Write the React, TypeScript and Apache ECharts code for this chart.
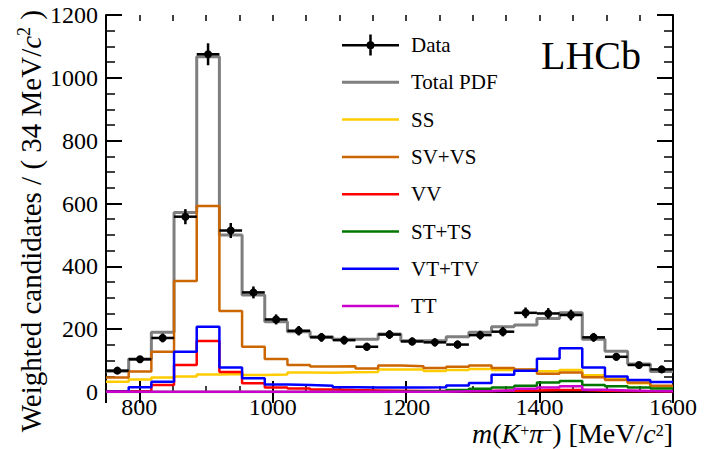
import React, { useEffect, useRef } from 'react';
import * as echarts from 'echarts';

const FONT = "'Liberation Serif', 'Times New Roman', serif";

// Binning: 25 bins of 34 MeV/c^2 from 750 to 1600
const BIN_START = 750;
const BIN_WIDTH = 34;

// Values read per bin (left to right)
const dataValues = [68, 104, 172, 558, 1075, 514, 317, 231, 195, 174, 165, 144, 183, 161, 158, 151, 181, 192, 252, 250, 245, 174, 112, 86, 72];
const dataErrors = [9, 11, 14, 24, 35, 24, 19, 16, 15, 14, 14, 13, 14, 13, 13, 13, 14, 15, 17, 17, 17, 14, 12, 10, 9];
const totalPdf = [66, 105, 190, 571, 1067, 500, 309, 224, 192, 176, 168, 168, 185, 163, 163, 176, 190, 208, 213, 234, 252, 168, 130, 89, 65];
const ssValues = [33, 40, 46, 49, 56, 57, 54, 56, 62, 61, 63, 64, 72, 72, 67, 70, 73, 70, 72, 66, 70, 53, 41, 28, 16];
const svvsValues = [46, 65, 128, 353, 592, 258, 144, 105, 86, 81, 82, 75, 84, 82, 76, 80, 84, 76, 72, 58, 62, 47, 38, 30, 20];
const vvValues = [2, 3, 22, 86, 162, 64, 28, 14, 11, 8, 6, 5, 4, 3, 3, 3, 3, 4, 5, 6, 6, 4, 3, 2, 2];
const sttsValues = [0, 0, 0, 0, 0, 0, 0, 0, 0, 0, 0, 0, 1, 2, 3, 6, 10, 14, 20, 30, 35, 22, 18, 14, 11];
const vttvValues = [1, 15, 33, 128, 208, 78, 44, 24, 22, 20, 15, 14, 14, 14, 15, 21, 29, 55, 68, 106, 139, 78, 49, 38, 32];
const ttValues = [1, 1, 1, 1, 1, 1, 1, 1, 1, 1, 1, 1, 1, 1, 1, 2, 3, 5, 10, 14, 18, 7, 5, 3, 2];

const legendNames = ['Data', 'Total PDF', 'SS', 'SV+VS', 'VV', 'ST+TS', 'VT+TV', 'TT'];

const DATA_ICON =
  'path://M0 9.5h57v2.5H0z M27.25 0h2.5v21h-2.5z M24.5 10.75a4 4 0 1 1 8 0a4 4 0 1 1 -8 0z';
const LINE_ICON = 'path://M0 0h57v2.5H0z';
const THICK_LINE_ICON = 'path://M0 0h57v3H0z';

function stepData(values: number[]) {
  const pts: number[][] = [];
  for (let i = 0; i < values.length; i++) pts.push([BIN_START + i * BIN_WIDTH, values[i]]);
  pts.push([BIN_START + values.length * BIN_WIDTH, values[values.length - 1]]);
  return pts;
}

function hist(name: string, values: number[], color: string, width: number, z: number) {
  return {
    name,
    type: 'line',
    step: 'end',
    data: stepData(values),
    showSymbol: false,
    symbol: 'none',
    xAxisIndex: 0,
    yAxisIndex: 0,
    z,
    silent: true,
    lineStyle: { color, width },
    itemStyle: { color },
  };
}

export default function App() {
  const ref = useRef<HTMLDivElement>(null);
  useEffect(() => {
    if (!ref.current) return;
    const chart = echarts.init(ref.current, undefined, { renderer: 'svg' });
    const gridRect = { left: 106, right: 37, top: 15, bottom: 57 };
    const axisLine = { show: true, lineStyle: { color: '#000', width: 2 } };
    const option: any = {
      animation: false,
      backgroundColor: '#fff',
      grid: [
        { ...gridRect, show: false },
        { ...gridRect, show: false },
      ],
      xAxis: [
        {
          type: 'value', gridIndex: 0, position: 'bottom', min: 750, max: 1600,
          axisLine, splitLine: { show: false },
          axisTick: { inside: true, length: 11, lineStyle: { color: '#000', width: 2 } },
          axisLabel: {
            color: '#000', fontFamily: FONT, fontSize: 24, lineHeight: 20, margin: 5,
            formatter: (v: number) => (v % 200 === 0 ? String(v) : ''),
          },
        },
        {
          type: 'value', gridIndex: 0, position: 'top', min: 750, max: 1600,
          axisLine, splitLine: { show: false },
          axisTick: { inside: true, length: 11, lineStyle: { color: '#000', width: 2 } },
          axisLabel: { show: false },
        },
        {
          type: 'value', gridIndex: 1, position: 'bottom', min: 750, max: 1600, interval: 50,
          axisLine: { show: false }, splitLine: { show: false },
          axisTick: { inside: true, length: 6, lineStyle: { color: '#000', width: 1.5 } },
          axisLabel: { show: false },
        },
        {
          type: 'value', gridIndex: 1, position: 'top', min: 750, max: 1600, interval: 50,
          axisLine: { show: false }, splitLine: { show: false },
          axisTick: { inside: true, length: 6, lineStyle: { color: '#000', width: 1.5 } },
          axisLabel: { show: false },
        },
      ],
      yAxis: [
        {
          type: 'value', gridIndex: 0, position: 'left', min: 0, max: 1200, interval: 200,
          axisLine, splitLine: { show: false },
          axisTick: { inside: true, length: 16, lineStyle: { color: '#000', width: 2 } },
          minorTick: { show: true, splitNumber: 4, length: 9, lineStyle: { color: '#000', width: 1.5 } },
          axisLabel: {
            color: '#000', fontFamily: FONT, fontSize: 24, margin: 8,
            formatter: (v: number) => String(v),
          },
        },
        {
          type: 'value', gridIndex: 0, position: 'right', min: 0, max: 1200, interval: 200,
          axisLine, splitLine: { show: false },
          axisTick: { inside: true, length: 16, lineStyle: { color: '#000', width: 2 } },
          minorTick: { show: true, splitNumber: 4, length: 9, lineStyle: { color: '#000', width: 1.5 } },
          axisLabel: { show: false },
        },
        {
          type: 'value', gridIndex: 1, min: 0, max: 1200, show: false,
        },
      ],
      legend: {
        orient: 'vertical',
        left: 337,
        top: 29.5,
        itemWidth: 57,
        itemHeight: 21,
        itemGap: 16.3,
        selectedMode: false,
        symbolKeepAspect: true,
        textStyle: { color: '#000', fontFamily: FONT, fontSize: 21, lineHeight: 21, padding: [0, 0, 0, 7] },
        data: legendNames.map((n) =>
          n === 'Data'
            ? { name: n, icon: DATA_ICON }
            : { name: n, icon: n === 'Total PDF' ? THICK_LINE_ICON : LINE_ICON }
        ),
      },
      series: [
        hist('Total PDF', totalPdf, '#7f7f7f', 3, 2),
        hist('SS', ssValues, '#ffcc00', 2.5, 3),
        hist('SV+VS', svvsValues, '#cc6600', 2.5, 3),
        hist('VV', vvValues, '#ff0000', 2.5, 3),
        hist('ST+TS', sttsValues, '#007700', 2.5, 3),
        hist('VT+TV', vttvValues, '#0000ff', 2.5, 3),
        hist('TT', ttValues, '#cc00cc', 2.5, 3),
        {
          name: 'Data',
          type: 'custom',
          xAxisIndex: 0,
          yAxisIndex: 0,
          z: 6,
          silent: true,
          itemStyle: { color: '#000' },
          encode: { x: 0, y: 1 },
          data: dataValues.map((v, i) => [BIN_START + (i + 0.5) * BIN_WIDTH, v, dataErrors[i]]),
          renderItem: (_params: any, api: any) => {
            const x = api.value(0);
            const y = api.value(1);
            const e = api.value(2);
            const l = api.coord([x - BIN_WIDTH / 2, y]);
            const r = api.coord([x + BIN_WIDTH / 2, y]);
            const t = api.coord([x, y + e]);
            const b = api.coord([x, y - e]);
            const c = api.coord([x, y]);
            const st = { stroke: '#000', lineWidth: 2.5 };
            return {
              type: 'group',
              children: [
                { type: 'line', shape: { x1: l[0], y1: l[1], x2: r[0], y2: r[1] }, style: st },
                { type: 'line', shape: { x1: t[0], y1: t[1], x2: b[0], y2: b[1] }, style: st },
                { type: 'circle', shape: { cx: c[0], cy: c[1], r: 4 }, style: { fill: '#000' } },
              ],
            };
          },
        },
      ],
      graphic: [
        {
          type: 'text',
          x: 31,
          y: 10,
          rotation: Math.PI / 2,
          style: {
            text: '{a|Weighted candidates / ( 34 MeV/}{i|c}{s|2}{a| )}',
            align: 'right',
            verticalAlign: 'middle',
            fill: '#000',
            rich: {
              a: { fontFamily: FONT, fontSize: 29, lineHeight: 32, fill: '#000' },
              i: { fontFamily: FONT, fontSize: 29, lineHeight: 32, fontStyle: 'italic', fill: '#000' },
              s: { fontFamily: FONT, fontSize: 18, lineHeight: 18, verticalAlign: 'top', fill: '#000' },
            },
          },
        },
        {
          type: 'text',
          x: 673,
          y: 433,
          style: {
            text: '{i|m}{a|(}{i|K}{s|+}{i|π}{s|−}{a|) [MeV/}{i|c}{s|2}{a|]}',
            align: 'right',
            verticalAlign: 'middle',
            fill: '#000',
            rich: {
              a: { fontFamily: FONT, fontSize: 28, lineHeight: 22, fill: '#000' },
              i: { fontFamily: FONT, fontSize: 28, lineHeight: 22, fontStyle: 'italic', fill: '#000' },
              s: { fontFamily: FONT, fontSize: 16, lineHeight: 13, verticalAlign: 'top', fill: '#000' },
            },
          },
        },
        {
          type: 'text',
          x: 541,
          y: 55,
          style: {
            text: 'LHCb',
            fontFamily: FONT,
            fontSize: 40,
            fill: '#000',
            verticalAlign: 'middle',
          },
        },
      ],
    };
    chart.setOption(option);
    return () => chart.dispose();
  }, []);
  return (
    <div
      ref={ref}
      style={{ position: 'fixed', left: 0, top: 0, width: 710, height: 449, background: '#fff' }}
    />
  );
}
